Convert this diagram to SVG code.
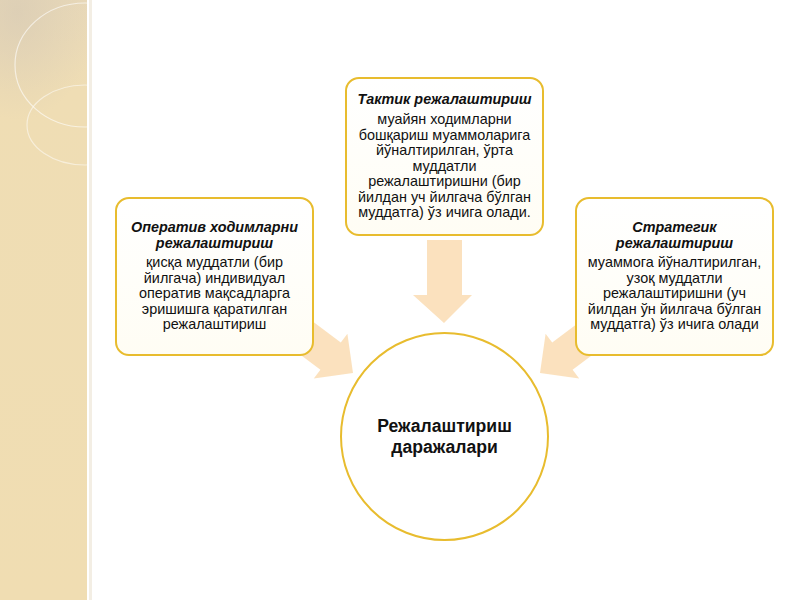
<svg xmlns="http://www.w3.org/2000/svg" width="800" height="600" viewBox="0 0 800 600">
<style>
.box{fill:url(#boxfill);stroke:#E8BC2E;stroke-width:2}
.title{font-family:"Liberation Sans",Arial,sans-serif;font-size:14.4px;font-weight:bold;font-style:italic;fill:#111;text-anchor:middle}
.body{font-family:"Liberation Sans",Arial,sans-serif;font-size:14.4px;fill:#111;text-anchor:middle}
.center{font-family:"Liberation Sans",Arial,sans-serif;font-size:17.6px;font-weight:bold;fill:#111;text-anchor:middle}
.arrow{fill:#F9CE96;opacity:0.62}
</style>
<defs>
<linearGradient id="boxfill" x1="0" y1="0" x2="0" y2="1">
<stop offset="0" stop-color="#FFFFFF"/>
<stop offset="1" stop-color="#FFFDF4"/>
</linearGradient>
<linearGradient id="strip" x1="0" y1="0" x2="0" y2="1">
<stop offset="0" stop-color="#E9D9B8"/>
<stop offset="0.15" stop-color="#EFDDB4"/>
<stop offset="1" stop-color="#F0DDB2"/>
</linearGradient>
<radialGradient id="shade" cx="0.2" cy="0.1" r="0.9">
<stop offset="0" stop-color="#D8CBB5" stop-opacity="0.7"/>
<stop offset="1" stop-color="#D8CBB5" stop-opacity="0"/>
</radialGradient>
</defs>
<rect x="0" y="0" width="800" height="600" fill="#FFFFFF"/>
<g id="sidebar">
<rect x="0" y="0" width="88" height="600" fill="url(#strip)"/>
<rect x="0" y="0" width="88" height="120" fill="url(#shade)"/>
<ellipse cx="85" cy="65" rx="70" ry="62" fill="none" stroke="#FFFFFF" stroke-opacity="0.6" stroke-width="1.2"/>
<ellipse cx="85" cy="125" rx="58" ry="40" fill="none" stroke="#FFFFFF" stroke-opacity="0.5" stroke-width="1.2"/>
<rect x="87" y="0" width="2" height="600" fill="#FFFFFF"/>
<rect x="89" y="0" width="3" height="600" fill="#F3EEE4"/>
</g>
<g id="connectors">
<polygon class="arrow" points="427,240 462,240 462,295 472,295 444,323 413,295 427,295"/>
<polygon class="arrow" points="308.8,318.6 340.8,342.6 347.4,333.8 353,373 313.8,378.6 320.4,369.8 288.4,345.8"/>
<polygon class="arrow" points="584.2,318.6 552.2,342.6 545.6,333.8 540,373 579.2,378.6 572.6,369.8 604.6,345.8"/>
</g>
<g id="tactical">
<rect class="box" x="346" y="78" width="197" height="157" rx="13"/>
<text class="title" x="444.5" y="104">Тактик режалаштириш</text>
<text class="body" x="444.5" y="124">муайян ходимларни</text>
<text class="body" x="444.5" y="139.5">бошқариш муаммоларига</text>
<text class="body" x="444.5" y="155">йўналтирилган, ўрта</text>
<text class="body" x="444.5" y="170.5">муддатли</text>
<text class="body" x="444.5" y="186">режалаштиришни (бир</text>
<text class="body" x="444.5" y="201.5">йилдан уч йилгача бўлган</text>
<text class="body" x="444.5" y="217">муддатга) ўз ичига олади.</text>
</g>
<g id="operative">
<rect class="box" x="116" y="198" width="197" height="157" rx="13"/>
<text class="title" x="214.5" y="232">Оператив ходимларни</text>
<text class="title" x="214.5" y="247.5">режалаштириш</text>
<text class="body" x="214.5" y="267">қисқа муддатли (бир</text>
<text class="body" x="214.5" y="282.5">йилгача) индивидуал</text>
<text class="body" x="214.5" y="298">оператив мақсадларга</text>
<text class="body" x="214.5" y="313.5">эришишга қаратилган</text>
<text class="body" x="214.5" y="329">режалаштириш</text>
</g>
<g id="strategic">
<rect class="box" x="576" y="198" width="197" height="157" rx="13"/>
<text class="title" x="674.5" y="232">Стратегик</text>
<text class="title" x="674.5" y="247.5">режалаштириш</text>
<text class="body" x="674.5" y="267">муаммога йўналтирилган,</text>
<text class="body" x="674.5" y="282.5">узоқ муддатли</text>
<text class="body" x="674.5" y="298">режалаштиришни (уч</text>
<text class="body" x="674.5" y="313.5">йилдан ўн йилгача бўлган</text>
<text class="body" x="674.5" y="329">муддатга) ўз ичига олади</text>
</g>
<g id="center">
<circle cx="444.5" cy="436.5" r="103.5" fill="#FFFFFF" stroke="#E8BC2E" stroke-width="2"/>
<text class="center" x="444.5" y="432">Режалаштириш</text>
<text class="center" x="444.5" y="453">даражалари</text>
</g>
</svg>
